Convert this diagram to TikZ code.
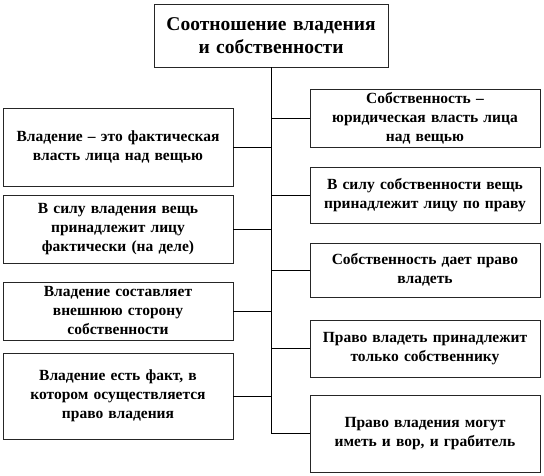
\documentclass[tikz,border=0pt]{standalone}
\usepackage{fontspec}
\setmainfont{Liberation Serif}
\usepackage{tikz}
\usetikzlibrary{positioning, calc}

\begin{document}
\begin{tikzpicture}[
  x=1pt, y=-1pt,
  font=\rmfamily\fontsize{15.5}{19}\selectfont\bfseries,
  box/.style={draw=black!85, line width=0.6pt, fill=white, align=center,
    inner sep=0pt, text width=224pt, minimum width=230pt},
  title/.style={box, font=\rmfamily\fontsize{19.5}{23}\selectfont\bfseries,
    text width=228pt, minimum width=234pt, minimum height=63pt},
  link/.style={line width=0.8pt}
]
  \useasboundingbox (0,0) rectangle (544,476);

  \node[title] (head) at (271,35.5) {Соотношение владения\\и собственности};

  % left column: possession
  \node[box, minimum height=78pt] (own1) at (118,147)
    {Владение -- это фактическая\\власть лица над вещью};
  \node[box, minimum height=68pt] (own2) at (118,229)
    {В силу владения вещь\\принадлежит лицу\\фактически (на деле)};
  \node[box, minimum height=58pt] (own3) at (118,311)
    {Владение составляет\\внешнюю сторону\\собственности};
  \node[box, minimum height=86pt] (own4) at (118,396)
    {Владение есть факт, в\\котором осуществляется\\право владения};

  % right column: ownership
  \node[box, minimum height=58pt] (prop1) at (425,118)
    {Собственность --\\юридическая власть лица\\над вещью};
  \node[box, minimum height=56pt] (prop2) at (425,195)
    {В силу собственности вещь\\принадлежит лицу по праву};
  \node[box, minimum height=54pt] (prop3) at (425,270)
    {Собственность дает право\\владеть};
  \node[box, minimum height=57pt] (prop4) at (425,348.5)
    {Право владеть принадлежит\\только собственнику};
  \node[box, minimum height=77pt] (prop5) at (425,433.5)
    {Право владения могут\\иметь и вор, и грабитель};

  % trunk and branches
  \draw[link] (head.south) -- (head.south |- prop5.west) -- (prop5.west);
  \foreach \n in {own1,own2,own3,own4}
    \draw[link] (\n.east) -- (\n.east -| head.south);
  \foreach \n in {prop1,prop2,prop3,prop4}
    \draw[link] (\n.west) -- (\n.west -| head.south);
\end{tikzpicture}
\end{document}
